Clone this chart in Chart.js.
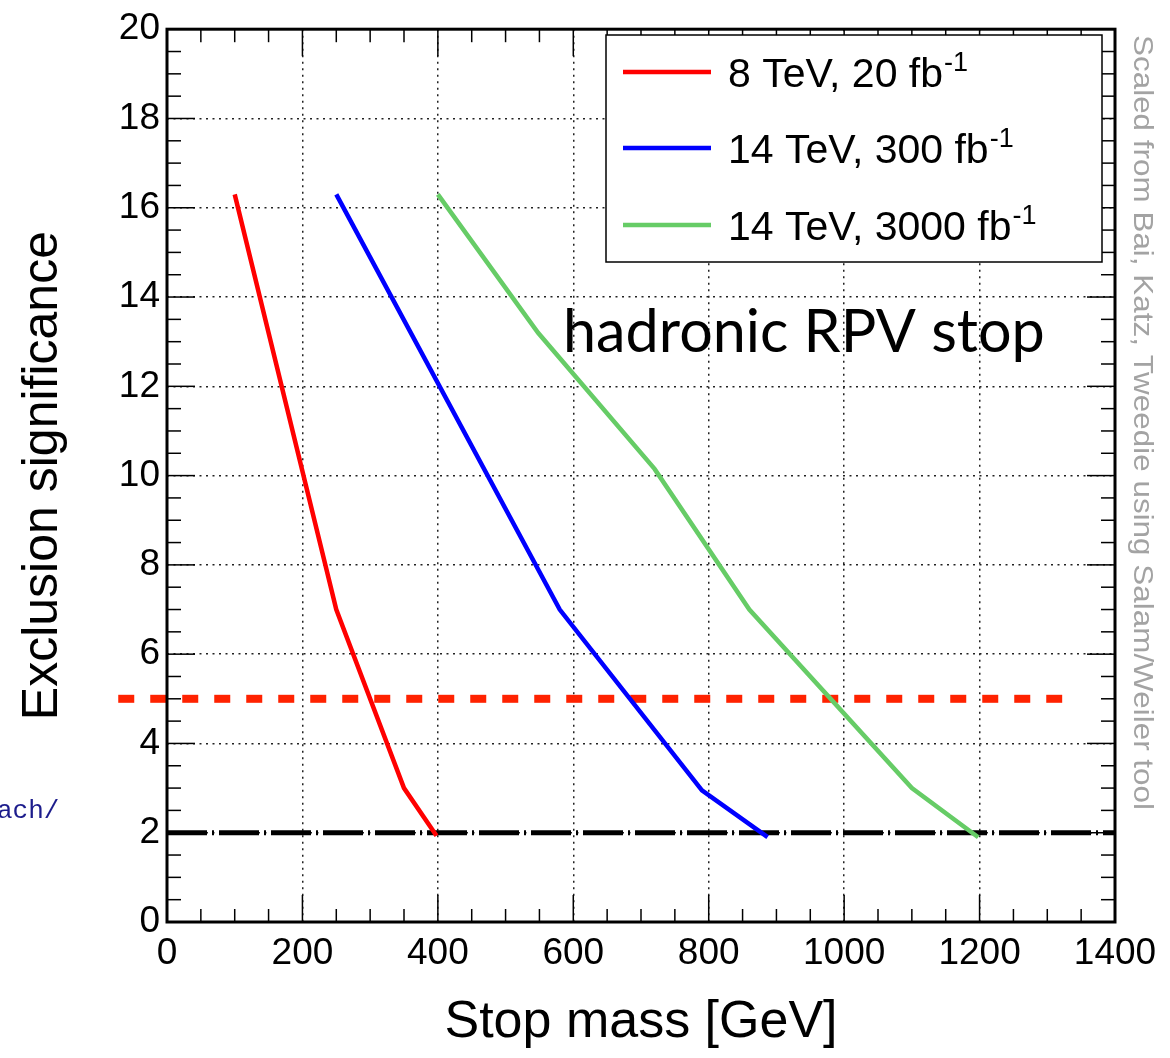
<!DOCTYPE html>
<html>
<head>
<meta charset="utf-8">
<script src="https://cdn.jsdelivr.net/npm/chart.js@4.4.1/dist/chart.umd.min.js"></script>
<style>
html, body { margin: 0; padding: 0; background: #fff; }
canvas { display: block; }
</style>
</head>
<body>
<canvas id="stopCanvas" width="1170" height="1058"></canvas>
<script>
// series labels (the "-1" exponent is drawn as a superscript)
var seriesLabels = ['8 TeV, 20 fb', '14 TeV, 300 fb', '14 TeV, 3000 fb'];
var seriesColors = ['rgb(255, 0, 0)', 'rgb(0, 0, 255)', 'rgb(102, 204, 102)'];

// stop mass [GeV] and exclusion significance
var mass8 = [100, 250, 350, 398];
var signif8 = [16.3, 7.0, 3.0, 1.93];

var mass14a = [250, 580, 790, 887];
var signif14a = [16.3, 7.0, 2.95, 1.9];

var mass14b = [400, 548, 720, 860, 1100, 1198];
var signif14b = [16.3, 13.2, 10.15, 7.0, 3.0, 1.9];

// reference lines
var fiveSigmaMass = [-72, 1322];
var fiveSigmaLevel = [5, 5];
var twoSigmaMass = [0, 1400];
var twoSigmaLevel = [2, 2];

// axes
var xTicks = [0, 200, 400, 600, 800, 1000, 1200, 1400];
var yTicks = [0, 2, 4, 6, 8, 10, 12, 14, 16, 18, 20];

function pts(xs, ys) {
    var out = [];
    for (var i = 0; i < xs.length; i++) out.push({ x: xs[i], y: ys[i] });
    return out;
}

function line(ctx, x1, y1, x2, y2) {
    ctx.beginPath();
    ctx.moveTo(x1, y1);
    ctx.lineTo(x2, y2);
    ctx.stroke();
}

// ROOT-like frame, ticks, legend and annotations
var rootStyle = {
    id: 'rootStyle',
    afterDatasetsDraw: function (chart) {
        var ctx = chart.ctx, a = chart.chartArea;
        var xs = chart.scales.x, ys = chart.scales.y;
        ctx.save();

        // ticks on all four sides, pointing in
        ctx.strokeStyle = '#000';
        ctx.lineWidth = 1.5;
        for (var v = xs.min; v <= xs.max; v += 50) {
            var px = xs.getPixelForValue(v);
            var len = (v % 200 === 0) ? 27 : 13;
            line(ctx, px, a.bottom, px, a.bottom - len);
            line(ctx, px, a.top, px, a.top + len);
        }
        for (var w = ys.min; w <= ys.max; w += 0.5) {
            var py = ys.getPixelForValue(w);
            var l2 = (w % 2 === 0) ? 28 : 14;
            line(ctx, a.left, py, a.left + l2, py);
            line(ctx, a.right, py, a.right - l2, py);
        }
        ctx.lineWidth = 3;
        ctx.strokeRect(a.left, a.top, a.right - a.left, a.bottom - a.top);

        // legend box
        ctx.fillStyle = '#fff';
        ctx.fillRect(606, 35, 496, 227);
        ctx.lineWidth = 1.5;
        ctx.strokeRect(606, 35, 496, 227);
        var rows = [72, 148, 225];
        for (var i = 0; i < seriesLabels.length; i++) {
            ctx.strokeStyle = seriesColors[i];
            ctx.lineWidth = 4.5;
            line(ctx, 623, rows[i], 711, rows[i]);
            ctx.fillStyle = '#000';
            ctx.font = '41px "Liberation Sans", Arial, sans-serif';
            ctx.textBaseline = 'alphabetic';
            ctx.textAlign = 'left';
            var base = rows[i] + 15;
            ctx.fillText(seriesLabels[i], 728, base);
            var tw = ctx.measureText(seriesLabels[i]).width;
            ctx.font = '27px "Liberation Sans", Arial, sans-serif';
            ctx.fillText('-1', 728 + tw + 1, base - 16);
        }

        // annotation
        ctx.fillStyle = '#000';
        ctx.font = '60px "Gill Sans", Lato, sans-serif';
        var hw = ctx.measureText('hadronic RPV stop').width;
        var hs = 60 * 482 / hw;
        ctx.font = hs.toFixed(1) + 'px "Gill Sans", Lato, sans-serif';
        ctx.fillText('hadronic RPV stop', 563, 352);

        // credit, rotated
        ctx.save();
        ctx.translate(1134, 35);
        ctx.rotate(Math.PI / 2);
        ctx.fillStyle = '#a3a3a3';
        ctx.font = '28px "Liberation Sans", Arial, sans-serif';
        var credit = 'Scaled from Bai, Katz, Tweedie using Salam/Weiler tool';
        var cw = ctx.measureText(credit).width;
        ctx.scale(775 / cw, 1);
        ctx.fillText(credit, 0, 0);
        ctx.restore();

        // clipped fragment at left edge
        ctx.fillStyle = '#1c1c8c';
        ctx.font = '26px "Liberation Mono", "DejaVu Sans Mono", monospace';
        ctx.fillText('ach/', -3, 818);

        ctx.restore();
    }
};

var tickFont = { family: '"Liberation Sans", Arial, sans-serif', size: 37 };

var ctx = document.getElementById('stopCanvas').getContext('2d');
var chart = new Chart(ctx, {
    type: 'line',
    data: {
        datasets: [
            { label: seriesLabels[0], data: pts(mass8, signif8), borderColor: seriesColors[0], borderWidth: 4.5 },
            { label: seriesLabels[1], data: pts(mass14a, signif14a), borderColor: seriesColors[1], borderWidth: 4.5 },
            { label: seriesLabels[2], data: pts(mass14b, signif14b), borderColor: seriesColors[2], borderWidth: 4.5 },
            { label: '5 sigma', data: pts(fiveSigmaMass, fiveSigmaLevel), borderColor: 'rgb(255, 34, 0)', borderWidth: 8, borderDash: [16, 16], clip: false },
            { label: '2 sigma', data: pts(twoSigmaMass, twoSigmaLevel), borderColor: '#000', borderWidth: 5, borderDash: [40, 5, 2, 5] }
        ]
    },
    options: {
        responsive: false,
        animation: false,
        devicePixelRatio: 1,
        elements: { point: { radius: 0 }, line: { tension: 0, fill: false } },
        layout: { padding: { left: 0, top: 24, right: 55, bottom: 0 } },
        plugins: { legend: { display: false }, tooltip: { enabled: false } },
        scales: {
            x: {
                type: 'linear',
                min: 0,
                max: 1400,
                afterBuildTicks: function (s) { s.ticks = xTicks.map(function (v) { return { value: v }; }); },
                afterFit: function (s) { s.height = 136; },
                grid: { color: '#222', lineWidth: 1.5, drawTicks: false },
                border: { display: false, dash: [2, 4.5] },
                ticks: { color: '#000', padding: 10, maxRotation: 0, font: tickFont, callback: function (v) { return String(v); } },
                title: { display: true, text: 'Stop mass [GeV]', color: '#000', padding: { top: 0, bottom: 4 }, font: { family: '"Liberation Sans", Arial, sans-serif', size: 52 } }
            },
            y: {
                type: 'linear',
                min: 0,
                max: 20,
                afterBuildTicks: function (s) { s.ticks = yTicks.map(function (v) { return { value: v }; }); },
                afterFit: function (s) { s.width = 167; },
                grid: { color: '#222', lineWidth: 1.5, drawTicks: false },
                border: { display: false, dash: [2, 4.5] },
                ticks: { color: '#000', padding: 7, font: tickFont, callback: function (v) { return String(v); } },
                title: { display: true, text: 'Exclusion significance', color: '#000', padding: { top: 13, bottom: 0 }, font: { family: '"Liberation Sans", Arial, sans-serif', size: 50 } }
            }
        }
    },
    plugins: [rootStyle]
});
</script>
</body>
</html>
